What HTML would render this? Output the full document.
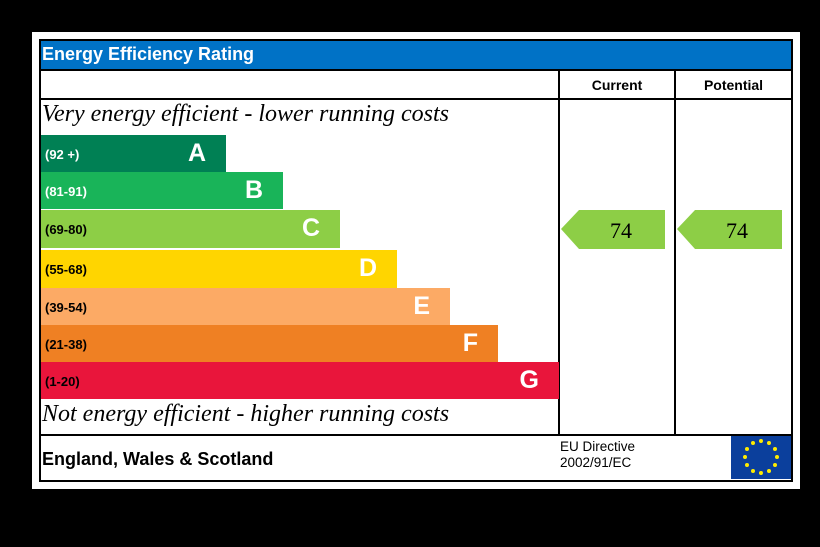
<!DOCTYPE html><html><head><style>
body{margin:0;width:820px;height:547px;background:#000;position:relative;overflow:hidden;font-family:"Liberation Sans",Arial,sans-serif}
div{position:absolute;box-sizing:border-box}
.bar{left:41px;height:37px;color:#fff;font-weight:bold}
.bar .r{position:absolute;left:4px;top:12px;font-size:13px;color:#fff}
.bar .l{position:absolute;right:20px;top:4px;font-size:25px}
.it{font-family:"Liberation Serif",serif;font-style:italic;font-size:24px;color:#000;left:42px;white-space:nowrap}
</style></head><body>
<div style="left:32px;top:32px;width:768px;height:457px;background:#fff"></div>
<div style="left:39px;top:39px;width:754px;height:443px;border:2px solid #000"></div>
<div style="left:41px;top:41px;width:750px;height:28px;background:#0072c6;color:#fff;font-weight:bold;font-size:18px;padding:3px 0 0 1px">Energy Efficiency Rating</div>
<div style="left:41px;top:69px;width:750px;height:2px;background:#000"></div>
<div style="left:41px;top:98px;width:518px;height:2px;background:#000"></div>
<div style="left:558px;top:69px;width:2px;height:367px;background:#000"></div>
<div style="left:674px;top:69px;width:2px;height:367px;background:#000"></div>
<div style="left:560px;top:98px;width:231px;height:2px;background:#000"></div>
<div style="left:41px;top:434px;width:750px;height:2px;background:#000"></div>
<div style="left:560px;top:77px;width:114px;text-align:center;font-weight:bold;font-size:14px">Current</div>
<div style="left:676px;top:77px;width:115px;text-align:center;font-weight:bold;font-size:14px">Potential</div>
<div class="it" style="top:101px">Very energy efficient - lower running costs</div>
<div class="bar" style="top:135px;width:185px;background:#008054"><span class="r">(92 +)</span><span class="l">A</span></div>
<div class="bar" style="top:172px;width:242px;background:#19b459"><span class="r">(81-91)</span><span class="l">B</span></div>
<div class="bar" style="top:210px;width:299px;height:38px;background:#8dce46"><span class="r" style="color:#000">(69-80)</span><span class="l">C</span></div>
<div class="bar" style="top:250px;width:356px;height:38px;background:#ffd500"><span class="r" style="color:#000">(55-68)</span><span class="l">D</span></div>
<div class="bar" style="top:288px;width:409px;background:#fcaa65"><span class="r" style="color:#000">(39-54)</span><span class="l">E</span></div>
<div class="bar" style="top:325px;width:457px;background:#ef8023"><span class="r" style="color:#000">(21-38)</span><span class="l">F</span></div>
<div class="bar" style="top:362px;width:518px;background:#e9153b"><span class="r" style="color:#000">(1-20)</span><span class="l">G</span></div>
<div class="it" style="top:401px">Not energy efficient - higher running costs</div>
<svg style="position:absolute;left:0;top:0" width="820" height="547">
<polygon points="561,229 579,210 665,210 665,249 579,249" fill="#8dce46"/>
<polygon points="677,229 695,210 782,210 782,249 695,249" fill="#8dce46"/>
<text x="621" y="238" font-family="Liberation Serif" font-size="22" text-anchor="middle">74</text>
<text x="737" y="238" font-family="Liberation Serif" font-size="22" text-anchor="middle">74</text>
<rect x="731" y="436" width="60" height="43" fill="#0b3f9c"/>
<g fill="#ffec00">
<circle cx="761" cy="441" r="2"/><circle cx="769" cy="443" r="2"/><circle cx="775" cy="449" r="2"/><circle cx="777" cy="457" r="2"/><circle cx="775" cy="465" r="2"/><circle cx="769" cy="471" r="2"/><circle cx="761" cy="473" r="2"/><circle cx="753" cy="471" r="2"/><circle cx="747" cy="465" r="2"/><circle cx="745" cy="457" r="2"/><circle cx="747" cy="449" r="2"/><circle cx="753" cy="443" r="2"/>
</g></svg>
<div style="left:42px;top:449px;font-weight:bold;font-size:18px">England, Wales &amp; Scotland</div>
<div style="left:560px;top:439px;font-size:13.5px;line-height:16px">EU Directive<br>2002/91/EC</div>
</body></html>
